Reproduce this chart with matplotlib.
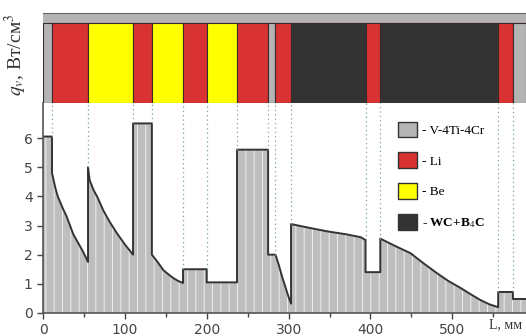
import matplotlib.pyplot as plt
from matplotlib.patches import Patch

# layer structure along L, mm (start, end, material)
layer_start = [0, 11, 55, 110, 133, 171, 200, 237, 275, 284, 303, 394, 412, 556, 574]
layer_end = [11, 55, 110, 133, 171, 200, 237, 275, 284, 303, 394, 412, 556, 574, 590]
layer_mat = ['V', 'Li', 'Be', 'Li', 'Be', 'Li', 'Be', 'Li', 'V', 'Li', 'WC', 'Li', 'WC', 'Li', 'V']

# heat deposition q_v, W/cm3, read along each layer
seg_x = [
    [0, 11],
    [11, 15, 18, 24, 29, 37, 43, 49, 55],
    [55, 57, 62, 66, 74, 82, 90, 100, 110],
    [110, 133],
    [133, 140, 147, 153, 159, 165, 171],
    [171, 200],
    [200, 237],
    [237, 275],
    [275, 284],
    [284, 288, 292, 296, 300, 303],
    [303, 320, 347, 370, 388, 394],
    [394, 412],
    [412, 430, 449, 465, 481, 495, 510, 522, 534, 545, 556],
    [556, 574],
    [574, 590],
]
seg_q = [
    [6.05, 6.05],
    [4.8, 4.3, 4.0, 3.6, 3.3, 2.7, 2.4, 2.1, 1.75],
    [5.0, 4.55, 4.2, 4.0, 3.5, 3.1, 2.75, 2.35, 2.0],
    [6.5, 6.5],
    [2.0, 1.75, 1.47, 1.33, 1.2, 1.1, 1.03],
    [1.5, 1.5],
    [1.05, 1.05],
    [5.6, 5.6],
    [2.0, 2.0],
    [2.0, 1.65, 1.25, 0.9, 0.55, 0.32],
    [3.05, 2.95, 2.8, 2.7, 2.6, 2.5],
    [1.4, 1.4],
    [2.55, 2.3, 2.05, 1.7, 1.37, 1.1, 0.86, 0.65, 0.45, 0.3, 0.2],
    [0.72, 0.72],
    [0.48, 0.48],
]

mat_color = {'V': '#b4b4b4', 'Li': '#d93232', 'Be': '#ffff00', 'WC': '#333333'}
legend_labels = [('V', '- V-4Ti-4Cr'), ('Li', '- Li'), ('Be', '- Be'), ('WC', '- WC+B$_4$C')]

plt.rcParams['mathtext.fontset'] = 'stix'

W, H = 526, 336
fig = plt.figure(figsize=(W / 100, H / 100), dpi=100)

ax = fig.add_axes([43 / W, 23 / H, (W - 43) / W, (313 - 103) / H])
top = fig.add_axes([43 / W, (H - 103) / H, (W - 43) / W, (103 - 13) / H])

xs, qs = [], []
for sx, sq in zip(seg_x, seg_q):
    xs += sx
    qs += sq

plt.rcParams['hatch.linewidth'] = 0.7
ax.fill_between(xs, 0, qs, facecolor='#bebebe', edgecolor='#eeeeee', hatch='||', linewidth=0)
ax.plot(xs, qs, color='#333333', lw=1.4)

# dotted boundaries between layers
for i in range(1, len(seg_x)):
    y0 = max(seg_q[i - 1][-1], seg_q[i][0])
    ax.vlines(seg_x[i][0], y0, 7.2, colors='#7aa87a', linestyles=(0, (1, 2.5)), lw=0.9)

ax.set_xlim(0, 590)
ax.set_ylim(0, 7.2)
ax.set_xticks([0, 100, 200, 300, 400, 500])
ax.set_xticks([50, 150, 250, 350, 450, 550], minor=True)
ax.set_yticks(range(7))
ax.tick_params(colors='#444444', labelsize=10, length=4, width=1)
ax.tick_params(which='minor', length=3, width=1, colors='#444444')
for s in ['top', 'right']:
    ax.spines[s].set_visible(False)
for s in ['left', 'bottom']:
    ax.spines[s].set_color('#555555')
    ax.spines[s].set_linewidth(1.2)

handles = [Patch(facecolor=mat_color[m], edgecolor='#333333', linewidth=1) for m, _ in legend_labels]
leg = ax.legend(handles, [t for _, t in legend_labels], loc='upper left',
                bbox_to_anchor=(391 / W, (H - 115) / H), bbox_transform=fig.transFigure,
                frameon=False, borderpad=0, handlelength=1.45, handleheight=1.45,
                labelspacing=1.15, handletextpad=0.4,
                prop={'family': 'Liberation Serif', 'size': 9.5})
leg.get_texts()[-1].set_fontweight('bold')

# material strip
top.set_facecolor('#b4b4b4')
top.bar(layer_start, 0.89, width=[e - s for s, e in zip(layer_start, layer_end)], align='edge',
        color=[mat_color[m] for m in layer_mat], edgecolor='#3a2a2a', linewidth=0.8)
top.set_xlim(0, 590)
top.set_ylim(0, 1)
top.set_xticks([])
top.set_yticks([])
for s in top.spines.values():
    s.set_visible(False)
top.spines['top'].set_visible(True)
top.spines['top'].set_color('#666666')

fig.text(16 / W, (H - 55) / H, '$q_v$, Вт/см$^3$', rotation=90, ha='center', va='center',
         family='Liberation Serif', size=14, color='#333333')
fig.text(489 / W, 8 / H, 'L, мм', family='Liberation Serif', size=10, color='#333333')

fig.savefig('out.png', dpi=100)
